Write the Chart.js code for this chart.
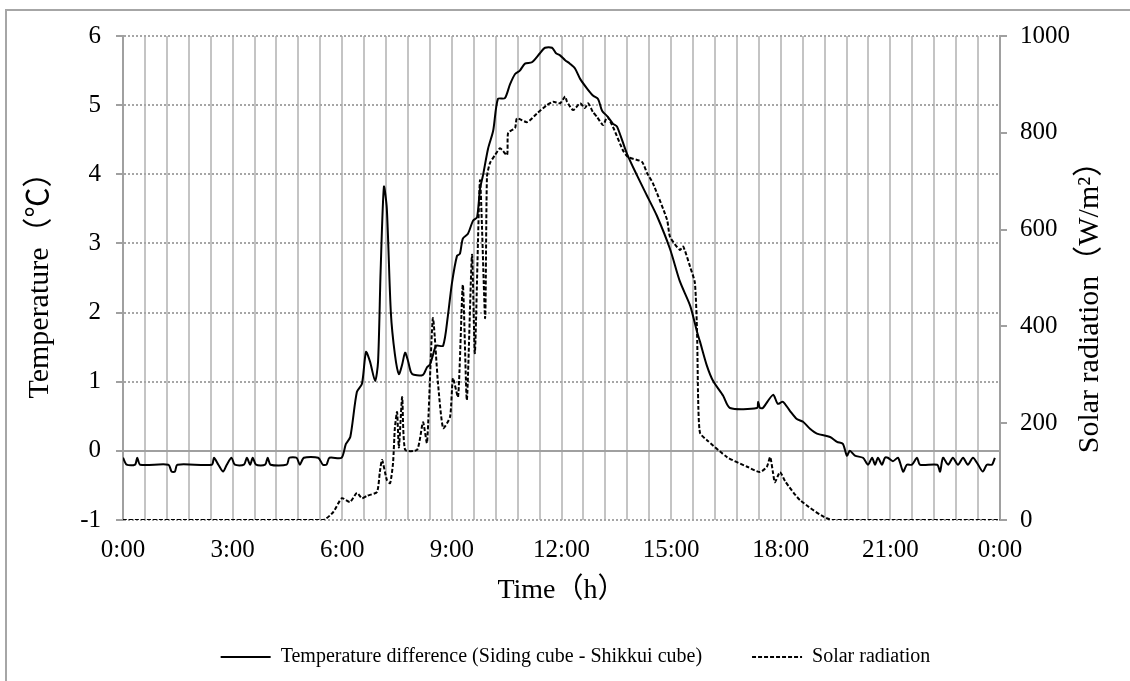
<!DOCTYPE html>
<html>
<head>
<meta charset="utf-8">
<script src="https://cdn.jsdelivr.net/npm/chart.js@4.4.0/dist/chart.umd.min.js"></script>
<style>
  html, body { margin: 0; padding: 0; background: #fff; overflow: hidden; }
  #wrap { position: relative; width: 1130px; height: 681px; }
  #frame { position: absolute; left: 5px; top: 9px; width: 1200px; height: 800px; border: 2px solid #a6a6a6; box-sizing: border-box; }
  #c { position: absolute; left: 0; top: 0; }
</style>
</head>
<body>
<div id="wrap"><div id="frame"></div><canvas id="c" width="1130" height="681"></canvas></div>
<script>
// time of day in hours, temperature difference in degC
var tempHours = [0, 0.10, 0.33, 0.39, 0.47, 1.24, 1.33, 1.42, 1.49, 2.43, 2.49, 2.61, 2.74, 2.84, 2.97, 3.06,
  3.31, 3.39, 3.48, 3.55, 3.64, 3.89, 3.96, 4.04, 4.48, 4.55, 4.75, 4.84, 4.95, 5.34, 5.47, 5.57, 5.65, 5.98,
  6.10, 6.22, 6.40, 6.54, 6.65, 6.76, 6.90, 6.98, 7.05, 7.14, 7.22, 7.33, 7.44, 7.55, 7.64, 7.72, 7.80, 7.88,
  7.96, 8.21, 8.32, 8.40, 8.48, 8.57, 8.76, 8.89, 9.00, 9.14, 9.22, 9.30, 9.44, 9.58, 9.69, 9.77, 9.85, 9.99,
  10.13, 10.26, 10.45, 10.59, 10.73, 10.86, 11.00, 11.19, 11.41, 11.55, 11.74, 11.85, 11.96, 12.10, 12.23,
  12.37, 12.51, 12.70, 12.86, 13.00, 13.11, 13.27, 13.41, 13.52, 13.79, 14.07, 14.34, 14.61, 14.97, 15.24,
  15.52, 15.71, 15.79, 15.98, 16.15, 16.42, 16.61, 17.35, 17.38, 17.43, 17.51, 17.79, 17.92, 18.06, 18.25,
  18.44, 18.61, 18.80, 18.99, 19.35, 19.54, 19.70, 19.81, 19.89, 20.03, 20.25, 20.39, 20.50, 20.58, 20.66,
  20.77, 20.85, 20.93, 21.07, 21.21, 21.35, 21.45, 21.59, 21.73, 21.81, 22.28, 22.36, 22.44, 22.58, 22.71,
  22.85, 22.99, 23.12, 23.26, 23.40, 23.53, 23.64, 23.78, 23.86];
var tempValues = [-0.1, -0.2, -0.2, -0.1, -0.2, -0.2, -0.3, -0.3, -0.2, -0.2, -0.1, -0.2, -0.3, -0.2, -0.1, -0.2,
  -0.2, -0.1, -0.2, -0.1, -0.2, -0.2, -0.1, -0.2, -0.2, -0.1, -0.1, -0.2, -0.1, -0.1, -0.2, -0.2, -0.1, -0.1,
  0.1, 0.2, 0.85, 0.97, 1.43, 1.29, 1.01, 1.29, 2.6, 3.82, 3.5, 2.0, 1.4, 1.11, 1.25, 1.42, 1.3, 1.14,
  1.1, 1.1, 1.21, 1.25, 1.38, 1.52, 1.52, 1.95, 2.42, 2.82, 2.85, 3.07, 3.14, 3.33, 3.38, 3.79, 3.98, 4.37,
  4.63, 5.09, 5.1, 5.3, 5.45, 5.5, 5.6, 5.62, 5.75, 5.83, 5.83, 5.75, 5.72, 5.65, 5.6,
  5.53, 5.38, 5.24, 5.14, 5.09, 4.92, 4.83, 4.73, 4.69, 4.3, 3.98, 3.69, 3.4, 2.92, 2.45,
  2.1, 1.72, 1.58, 1.23, 1.01, 0.8, 0.62, 0.62, 0.71, 0.62, 0.62, 0.81, 0.68, 0.71, 0.58,
  0.46, 0.42, 0.32, 0.25, 0.2, 0.13, 0.1, -0.07, 0.0, -0.07, -0.1, -0.2, -0.1, -0.2, -0.1,
  -0.2, -0.1, -0.1, -0.15, -0.1, -0.3, -0.2, -0.2, -0.1, -0.2, -0.2, -0.3, -0.1, -0.2, -0.1,
  -0.2, -0.1, -0.2, -0.1, -0.2, -0.3, -0.2, -0.2, -0.1];

// time of day in hours, solar radiation in W/m2
var solarHours = [0, 5.47, 5.75, 5.99, 6.21, 6.40, 6.54, 6.68, 6.95, 7.03, 7.09, 7.22, 7.31, 7.39, 7.44, 7.50,
  7.55, 7.64, 7.72, 8.05, 8.21, 8.32, 8.48, 8.62, 8.76, 8.95, 9.03, 9.17, 9.30, 9.41, 9.55, 9.63, 9.77, 9.91,
  9.96, 10.04, 10.18, 10.32, 10.51, 10.54, 10.73, 10.78, 11.06, 11.33, 11.60, 11.77, 11.96, 12.10, 12.15,
  12.32, 12.51, 12.64, 12.73, 12.86, 12.97, 13.14, 13.25, 13.41, 13.68, 13.82, 14.20, 14.34, 14.50, 14.89,
  14.97, 15.24, 15.33, 15.52, 15.65, 15.71, 15.74, 15.79, 15.98, 16.53, 17.08, 17.43, 17.62, 17.71, 17.79,
  17.84, 17.98, 18.12, 18.53, 19.40, 24];
var solarValues = [0, 0, 16, 45, 37, 56, 45, 50, 58, 100, 124, 83, 76, 118, 190, 223,
  150, 254, 145, 145, 202, 159, 417, 283, 190, 213, 293, 254, 486, 248, 548, 345, 702, 417,
  709, 737, 754, 768, 754, 800, 810, 830, 822, 840, 857, 864, 861, 875, 864,
  847, 861, 851, 861, 843, 833, 816, 833, 812, 764, 750, 740, 717, 696, 620,
  585, 558, 565, 523, 490, 386, 248, 180, 165, 130, 110, 99, 110, 130, 97,
  78, 99, 80, 41, 0, 0];

var tempLabel = 'Temperature difference (Siding cube - Shikkui cube)';
var solarLabel = 'Solar radiation';
var xTitle = 'Time（h）';
var yTitle = 'Temperature（℃）';
var y1Title = 'Solar radiation（W/m²）';

var serif = "'Liberation Serif', 'Times New Roman', 'Noto Sans CJK JP', serif";
var axisGray = '#a0a0a0';

function toPoints(xs, ys) {
  return xs.map(function (x, i) { return { x: x, y: ys[i] }; });
}

// right axis title reads bottom-to-top like the left one
var rightTitle = {
  id: 'rightTitle',
  afterDraw: function (chart) {
    var s = chart.scales.y1, ctx = chart.ctx;
    ctx.save();
    ctx.translate(s.right - 40, 300);
    ctx.rotate(-Math.PI / 2);
    ctx.font = '30px ' + serif;
    ctx.fillStyle = '#000';
    ctx.textAlign = 'center';
    ctx.textBaseline = 'middle';
    ctx.fillText(y1Title, 0, 0);
    ctx.restore();
  }
};

new Chart(document.getElementById('c'), {
  type: 'line',
  data: {
    datasets: [{
      label: tempLabel,
      data: toPoints(tempHours, tempValues),
      yAxisID: 'y',
      borderColor: '#000',
      borderWidth: 2,
      pointRadius: 0,
      tension: 0.25,
      fill: false
    }, {
      label: solarLabel,
      data: toPoints(solarHours, solarValues),
      yAxisID: 'y1',
      borderColor: '#000',
      borderWidth: 2,
      borderDash: [4, 2],
      pointRadius: 0,
      tension: 0.2,
      fill: false
    }]
  },
  options: {
    responsive: false,
    animation: false,
    layout: { padding: { left: 21, right: 0, top: 36, bottom: 4 } },
    plugins: {
      legend: {
        position: 'bottom',
        labels: {
          usePointStyle: true,
          pointStyle: 'line',
          pointStyleWidth: 50,
          padding: 50,
          color: '#000',
          font: { family: serif, size: 20 },
          generateLabels: function (chart) {
            var items = Chart.defaults.plugins.legend.labels.generateLabels(chart);
            items.forEach(function (it) {
              var ds = chart.data.datasets[it.datasetIndex];
              it.pointStyle = 'line';
              it.strokeStyle = ds.borderColor;
              it.lineWidth = ds.borderWidth;
              it.lineDash = ds.borderDash || [];
            });
            return items;
          }
        }
      },
      tooltip: { enabled: false }
    },
    scales: {
      x: {
        type: 'linear',
        min: 0,
        max: 24,
        afterFit: function (s) { s.height = 77; },
        grid: { color: '#c4c4c4', lineWidth: 2, drawTicks: false },
        border: { display: false },
        ticks: {
          stepSize: 0.6,
          autoSkip: false,
          maxRotation: 0,
          padding: 15,
          color: '#000',
          font: { family: serif, size: 25 },
          callback: function (v) {
            var r = v / 3;
            if (Math.abs(r - Math.round(r)) > 1e-6) return '';
            return (Math.round(v) % 24) + ':00';
          }
        },
        title: { display: true, text: xTitle, color: '#000', font: { family: serif, size: 28 }, padding: { top: 0, bottom: -10 } }
      },
      y: {
        position: 'left',
        min: -1,
        max: 6,
        afterFit: function (s) { s.width = 102; },
        grid: {
          color: function (ctx) { return ctx.tick && ctx.tick.value === 0 ? axisGray : '#a6a6a6'; },
          lineWidth: 2,
          tickLength: 7,
          tickColor: axisGray,
          tickWidth: 2
        },
        border: {
          color: axisGray,
          width: 2,
          dash: function (ctx) { return ctx.tick && ctx.tick.value === 0 ? [] : [2, 2]; }
        },
        ticks: { stepSize: 1, padding: 15, color: '#000', font: { family: serif, size: 25 } },
        title: { display: true, text: yTitle, color: '#000', font: { family: serif, size: 30 }, padding: { top: 1, bottom: 0 } }
      },
      y1: {
        position: 'right',
        min: 0,
        max: 1000,
        afterFit: function (s) { s.width = 130; },
        grid: { drawOnChartArea: false, tickLength: 7, tickColor: axisGray, tickWidth: 2, lineWidth: 2 },
        border: { color: axisGray, width: 2 },
        ticks: {
          stepSize: 200,
          padding: 13,
          color: '#000',
          font: { family: serif, size: 25 },
          callback: function (v) { return String(v); }
        }
      }
    }
  },
  plugins: [rightTitle]
});
</script>
</body>
</html>
